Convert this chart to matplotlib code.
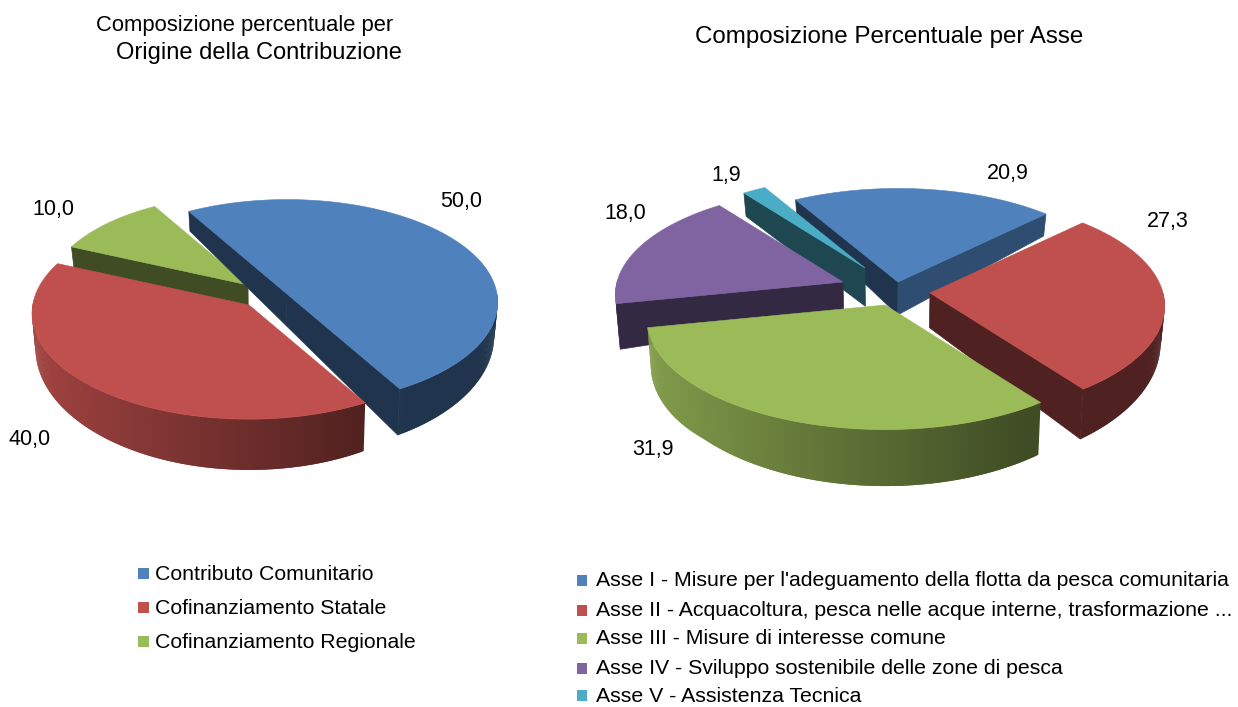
#!/usr/bin/env python3
# -*- coding: utf-8 -*-

import numpy as np
import matplotlib
matplotlib.use('Agg')
import matplotlib.pyplot as plt
from matplotlib.patches import Polygon, Rectangle

plt.rcParams['font.family'] = ['Liberation Sans', 'DejaVu Sans']

# data
origine_labels = ['Contributo Comunitario', 'Cofinanziamento Statale', 'Cofinanziamento Regionale']
origine_values = [50.0, 40.0, 10.0]
asse_labels = ["Asse I - Misure per l'adeguamento della flotta da pesca comunitaria",
               'Asse II - Acquacoltura, pesca nelle acque interne, trasformazione ...',
               'Asse III - Misure di interesse comune',
               'Asse IV - Sviluppo sostenibile delle zone di pesca',
               'Asse V - Assistenza Tecnica']
asse_values = [20.9, 27.3, 31.9, 18.0, 1.9]
titolo_origine = ['Composizione percentuale per', 'Origine della Contribuzione']
titolo_asse = 'Composizione Percentuale per Asse'

# style / layout (pixels of the figure)
colors = ['#4F81BD', '#C0504D', '#9BBB59', '#8064A2', '#4BACC6']
left_apex = [(287, 294), (249, 305), (248, 285)]
left_scale = [1.0, 1.03, 0.95]
left_wall = [1, 1, 1]
right_apex = [(898, 282), (930, 293), (885, 305), (843, 282), (865, 268)]
right_scale = [0.97, 1.0, 1.015, 0.97, 0.95]
right_wall = [1, 1, 1, 1, 1.25]
left_text = [(461, 201), (30, 440), (53, 210)]
right_text = [(1008, 173), (1168, 222), (653, 450), (625, 214), (726, 176)]


def shade(color, f):
    return np.array(matplotlib.colors.to_rgb(color)) * f


def project(apex, theta, A, B, p):
    t = np.radians(theta)
    d = 1 + p * np.cos(t)
    return apex[0] + A * np.sin(t) / d, apex[1] - B * np.cos(t) / d


def draw_slice(ax, apex, t0, t1, color, A, B, p, wall, cx, wall_k):
    # wall(x, y) gives the thickness on screen, bottoms lean slightly to the chart centre
    def lower(x, y):
        return x + (cx - x) * 0.015, y + wall(x, y) * wall_k

    thetas = np.linspace(t0, t1, int(max(t1 - t0, 2)) * 2 + 1)
    top = [project(apex, t, A, B, p) for t in thetas]
    low_apex = lower(*apex)

    # outer wall, light on the left and dark on the right; quads overlap to hide seams
    for i in range(len(top) - 1):
        mid = np.radians((thetas[i] + thetas[i + 1]) / 2)
        if np.cos(mid) > 0.02:
            continue
        f = 0.41 + 0.44 * np.clip((0.53 - np.sin(mid)) / 1.53, 0, 1)
        j = min(i + 2, len(top) - 1)
        ax.add_patch(Polygon([top[i], top[j], lower(*top[j]), lower(*top[i])],
                             fc=shade(color, f), ec='none'))

    # cut faces, only those turned to the viewer
    dark = 0.41
    if np.sin(np.radians(t0)) < 0:
        c = shade(color, dark)
        ax.add_patch(Polygon([apex, top[0], lower(*top[0]), low_apex], fc=c, ec=c, lw=0.5))
    if np.sin(np.radians(t1)) > 0:
        c = shade(color, 0.6 if (t1 % 360) < 90 else dark)
        ax.add_patch(Polygon([apex, top[-1], lower(*top[-1]), low_apex], fc=c, ec=c, lw=0.5))

    ax.add_patch(Polygon([apex] + top, fc=color, ec=color, lw=0.4))


def draw_pie(ax, values, start, apexes, scales, walls, order, A, B, p, wall, cx):
    edges = start + np.cumsum([0] + list(values)) * 3.6
    for i in order:
        draw_slice(ax, apexes[i], edges[i], edges[i + 1], colors[i],
                   A * scales[i], B * scales[i], p, wall, cx, walls[i])


fig = plt.figure(figsize=(12.38, 7.07), dpi=100)
ax = fig.add_axes([0, 0, 1, 1])
ax.set_xlim(0, 1238)
ax.set_ylim(707, 0)
ax.axis('off')

draw_pie(ax, origine_values, 330, left_apex, left_scale, left_wall, [2, 0, 1], 210, 102, 0.08,
         lambda x, y: 20 + 0.149 * (y - 213), 266)
draw_pie(ax, asse_values, 330, right_apex, right_scale, right_wall, [0, 4, 3, 1, 2], 233, 108, 0.12,
         lambda x, y: 22 + 0.16 * (y - 214) + 0.11 * max(0, 700 - x), 890)

# titles
ax.text(244.5, 25, titolo_origine[0], ha='center', va='center', fontsize=15.8, color='black')
ax.text(258.5, 53, titolo_origine[1], ha='center', va='center', fontsize=17, color='black')
ax.text(889.5, 37, titolo_asse, ha='center', va='center', fontsize=17.4, color='black')

# data labels
for v, (x, y) in zip(origine_values, left_text):
    ax.text(x, y, f'{v:.1f}'.replace('.', ','), ha='center', va='center', fontsize=15.5, color='black')
for v, (x, y) in zip(asse_values, right_text):
    ax.text(x, y, f'{v:.1f}'.replace('.', ','), ha='center', va='center', fontsize=15.5, color='black')

# legends
for lab, col, y in zip(origine_labels, colors, [574, 608, 642]):
    ax.add_patch(Rectangle((138, y - 6), 11, 11, fc=col, ec='none'))
    ax.text(155, y, lab, ha='left', va='center', fontsize=15.3, color='black')
for lab, col, y in zip(asse_labels, colors, [581, 611, 639, 669, 696]):
    ax.add_patch(Rectangle((577, y - 6), 10, 11, fc=col, ec='none'))
    ax.text(596, y, lab, ha='left', va='center', fontsize=15.3, color='black')

fig.savefig('out.png', dpi=100, facecolor='white')
